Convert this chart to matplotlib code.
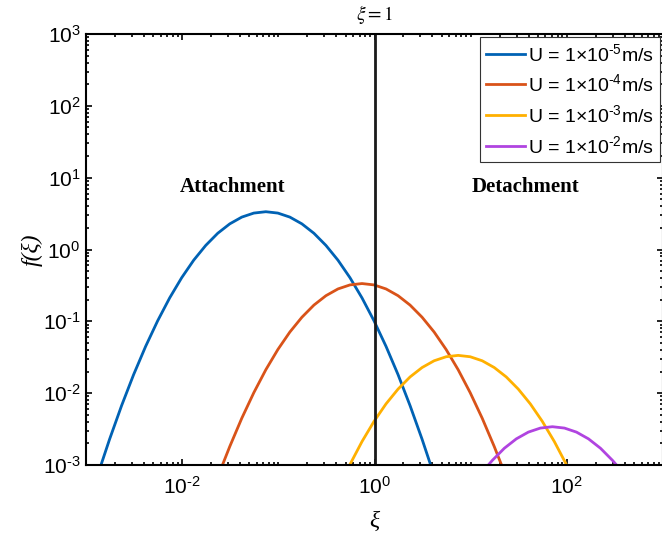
import matplotlib
matplotlib.use('Agg')
import matplotlib.pyplot as plt
from matplotlib.ticker import FixedLocator, NullFormatter, FuncFormatter
import matplotlib.transforms as mtransforms
import math

plt.rcParams['font.family'] = ['Liberation Sans', 'DejaVu Sans']
plt.rcParams['axes.unicode_minus'] = False
plt.rcParams['mathtext.fontset'] = 'custom'
plt.rcParams['mathtext.rm'] = 'Liberation Sans'
plt.rcParams['mathtext.it'] = 'Liberation Sans:italic'

# values (xi, f(xi))
blue_xi = [0.001432, 0.001758, 0.002344, 0.003126, 0.004169, 0.005559, 0.007413,
           0.009886, 0.01318, 0.01758, 0.02344, 0.03126, 0.04169, 0.05559, 0.07413,
           0.09886, 0.1318, 0.1758, 0.2344, 0.3126, 0.4169, 0.5559, 0.7413, 0.9886,
           1.318, 1.758, 2.344, 3.126, 3.837]
blue_f = [0.001, 0.00228, 0.0067, 0.0181, 0.0448, 0.1016, 0.212, 0.405, 0.710, 1.140,
          1.683, 2.275, 2.825, 3.214, 3.357, 3.214, 2.825, 2.275, 1.683, 1.140, 0.710,
          0.405, 0.212, 0.1016, 0.0448, 0.0181, 0.0067, 0.00228, 0.001]

orange_xi = [0.02624, 0.03126, 0.04169, 0.05559, 0.07413, 0.09886, 0.1318, 0.1758,
             0.2344, 0.3126, 0.4169, 0.5559, 0.7413, 0.9886, 1.318, 1.758, 2.344,
             3.126, 4.169, 5.559, 7.413, 9.886, 13.18, 17.58, 20.94]
orange_f = [0.001, 0.00181, 0.00448, 0.01016, 0.0212, 0.0405, 0.0710, 0.1140, 0.1683,
            0.2275, 0.2825, 0.3214, 0.3357, 0.3214, 0.2825, 0.2275, 0.1683, 0.1140,
            0.0710, 0.0405, 0.0212, 0.01016, 0.00448, 0.00181, 0.001]

yellow_xi = [0.5521, 0.7413, 0.9886, 1.318, 1.758, 2.344, 3.126, 4.169, 5.559, 7.413,
             9.886, 13.18, 17.58, 23.44, 31.26, 41.69, 55.59, 74.13, 99.54]
yellow_f = [0.001, 0.00212, 0.00405, 0.00710, 0.01140, 0.01683, 0.02275, 0.02825,
            0.03214, 0.03357, 0.03214, 0.02825, 0.02275, 0.01683, 0.01140, 0.00710,
            0.00405, 0.00212, 0.001]

purple_xi = [15.26, 16.79, 22.39, 29.85, 39.81, 53.09, 70.79, 94.41, 125.9, 167.9,
             223.9, 298.5, 328.5]
purple_f = [0.001, 0.001159, 0.00171, 0.002313, 0.002871, 0.003267, 0.003412,
            0.003267, 0.002871, 0.002313, 0.00171, 0.001159, 0.001]

labels = ['U = 1$\\times$10$^{\\text{-}5}$m/s', 'U = 1$\\times$10$^{\\text{-}4}$m/s',
          'U = 1$\\times$10$^{\\text{-}3}$m/s', 'U = 1$\\times$10$^{\\text{-}2}$m/s']
colors = ['#0062B4', '#D95319', '#FFB000', '#B044E0']


def pow_label(v, pos):
    e = int(round(math.log10(v)))
    s = str(e).replace('-', '\\text{-}')
    return '$\\mathdefault{10^{%s}}$' % s


fig = plt.figure(figsize=(6.62, 5.34), dpi=100)
ax = fig.add_axes([86 / 662, 69 / 534, 577 / 662, 431 / 534])

series = [(blue_xi, blue_f), (orange_xi, orange_f),
          (yellow_xi, yellow_f), (purple_xi, purple_f)]
for (xs, ys), lab, c in zip(series, labels, colors):
    ax.plot(xs, ys, color=c, lw=2.0, label=lab)

ax.axvline(1, color='#1a1a1a', lw=2.0)

ax.set_xscale('log')
ax.set_yscale('log')
ax.set_xlim(1e-3, 1e3)
ax.set_ylim(1e-3, 1e3)

# ticks only inside the visible decades
ax.xaxis.set_major_locator(FixedLocator([1e-2, 1, 1e2]))
minor_x = [k * 10.0 ** n for n in range(-3, 3) for k in range(1, 10)
           if not (k == 1 and n in (-2, 0, 2))]
ax.xaxis.set_minor_locator(FixedLocator(minor_x))
ax.xaxis.set_minor_formatter(NullFormatter())
ax.xaxis.set_major_formatter(FuncFormatter(pow_label))

ax.yaxis.set_major_locator(FixedLocator([10.0 ** n for n in range(-3, 4)]))
minor_y = [k * 10.0 ** n for n in range(-3, 3) for k in range(2, 10)]
ax.yaxis.set_minor_locator(FixedLocator(minor_y))
ax.yaxis.set_minor_formatter(NullFormatter())
ax.yaxis.set_major_formatter(FuncFormatter(pow_label))

ax.tick_params(which='both', direction='in', top=True, right=True, width=1.2)
ax.tick_params(which='major', length=4, labelsize=15)
ax.tick_params(axis='x', which='major', pad=8)
ax.tick_params(axis='y', which='major', pad=4)
ax.tick_params(which='minor', length=2.5)
for s in ax.spines.values():
    s.set_linewidth(1.5)

ax.set_xlabel('ξ', family='Liberation Serif', style='italic', fontsize=17, labelpad=9)
ax.set_ylabel('f(ξ)', family='Liberation Serif', style='italic', fontsize=17, labelpad=0)

trans = mtransforms.blended_transform_factory(ax.transData, ax.transAxes)
ax.text(1, 1.045, '$\\xi = 1$', transform=trans, ha='center', va='center',
        fontsize=14, math_fontfamily='stix')

ax.text(0.0332, 7.48, 'Attachment', family='Liberation Serif', weight='bold',
        fontsize=15, ha='center', va='center')
ax.text(37.5, 7.48, 'Detachment', family='Liberation Serif', weight='bold',
        fontsize=15, ha='center', va='center')

leg = ax.legend(loc='upper right', fontsize=14, fancybox=False, framealpha=1,
                edgecolor='#333333', borderaxespad=0.15, handlelength=2.0,
                handletextpad=0.2, labelspacing=0.45, borderpad=0.3)
leg.get_frame().set_linewidth(0.8)

fig.savefig('out.png', dpi=100)
